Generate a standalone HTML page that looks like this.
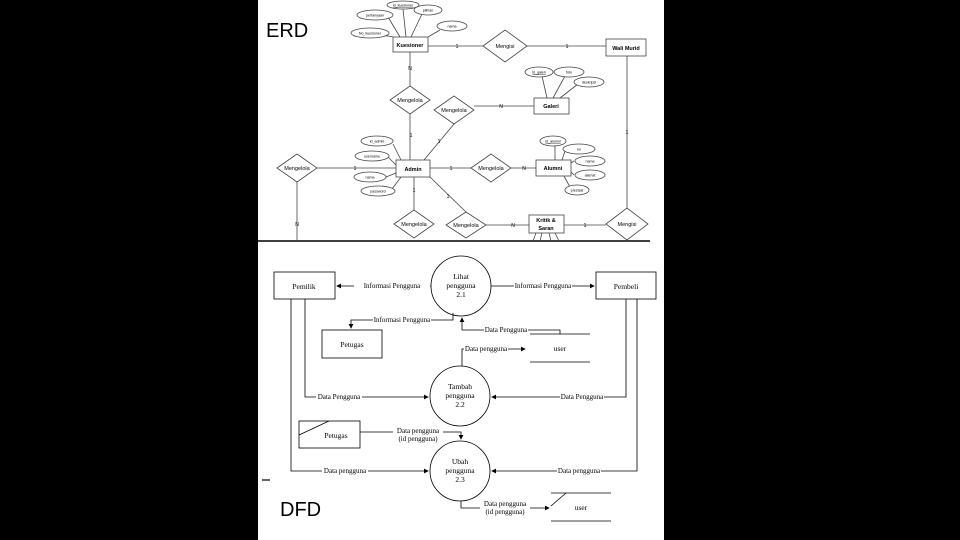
<!DOCTYPE html>
<html><head><meta charset="utf-8"><style>
html,body{margin:0;padding:0;background:#000;}
svg{display:block}
.s{font-family:"Liberation Sans",sans-serif;}
.f{font-family:"Liberation Serif",serif;}
</style></head><body>
<svg width="960" height="540" viewBox="0 0 960 540" xmlns="http://www.w3.org/2000/svg">
<defs><marker id="a" markerWidth="6" markerHeight="6" refX="5" refY="3" orient="auto"><path d="M0,0 L6,3 L0,6 z" fill="#000"/></marker></defs>
<rect x="0" y="0" width="960" height="540" fill="#000"/>
<rect x="258" y="0" width="406" height="540" fill="#fff"/>
<text x="266" y="37" class="s" font-size="20" fill="#000">ERD</text>
<text x="280" y="516" class="s" font-size="20" fill="#000">DFD</text>
<line x1="258" y1="241" x2="650" y2="241" stroke="#000" stroke-width="1.5"/>
<line x1="262" y1="480" x2="270" y2="480" stroke="#000" stroke-width="1.2"/>

<g stroke="#444" stroke-width="0.8" fill="none">
<!-- ERD lines -->
<line x1="428" y1="46" x2="483" y2="46"/><line x1="527" y1="46" x2="606" y2="46"/>
<line x1="410" y1="52" x2="410" y2="86"/><line x1="410" y1="114" x2="410" y2="160"/>
<line x1="454" y1="124" x2="424" y2="160"/><line x1="474" y1="106" x2="534" y2="106"/>
<line x1="317" y1="168" x2="396" y2="168"/><line x1="297" y1="182" x2="297" y2="241"/>
<line x1="430" y1="168" x2="471" y2="168"/><line x1="511" y1="168" x2="536" y2="168"/>
<line x1="414" y1="177" x2="414" y2="210"/><line x1="430" y1="177" x2="466" y2="212"/>
<line x1="486" y1="225" x2="529" y2="225"/><line x1="564" y1="225" x2="606" y2="225"/>
<line x1="627" y1="56" x2="627" y2="208"/>
<!-- attr lines -->
<line x1="394" y1="37" x2="369" y2="33"/><line x1="400" y1="37" x2="388" y2="17"/>
<line x1="406" y1="37" x2="403" y2="9"/><line x1="411" y1="37" x2="422" y2="14"/>
<line x1="428" y1="37" x2="440" y2="30"/>
<line x1="547" y1="98" x2="542" y2="76"/><line x1="553" y1="98" x2="565" y2="76"/>
<line x1="560" y1="98" x2="578" y2="84"/>
<line x1="555" y1="160" x2="555" y2="145"/><line x1="562" y1="160" x2="565" y2="151"/>
<line x1="571" y1="163" x2="574" y2="161"/><line x1="571" y1="172" x2="574" y2="175"/>
<line x1="564" y1="176" x2="570" y2="187"/>
<line x1="401" y1="160" x2="393" y2="144"/><line x1="396" y1="165" x2="388" y2="157"/>
<line x1="396" y1="173" x2="386" y2="177"/><line x1="401" y1="177" x2="392" y2="189"/>
<line x1="536" y1="233" x2="533" y2="241"/><line x1="542" y1="233" x2="540" y2="241"/><line x1="549" y1="233" x2="551" y2="241"/><line x1="555" y1="233" x2="559" y2="241"/>
</g>
<g stroke="#444" stroke-width="0.8" fill="#fff">
<rect x="393" y="37" width="35" height="15"/>
<rect x="606" y="39" width="40" height="17"/>
<rect x="534" y="98" width="35" height="16"/>
<rect x="396" y="160" width="34" height="17"/>
<rect x="536" y="160" width="35" height="16"/>
<rect x="529" y="215" width="35" height="18"/>
<polygon points="483,46 505,30 527,46 505,62"/>
<polygon points="390,100 410,86 430,100 410,114"/>
<polygon points="434,110 454,96 474,110 454,124"/>
<polygon points="277,168 297,154 317,168 297,182"/>
<polygon points="471,168 491,154 511,168 491,182"/>
<polygon points="394,224 414,210 434,224 414,238"/>
<polygon points="446,225 466,212 486,225 466,238"/>
<polygon points="606,224 627,208 648,224 627,240"/>
<ellipse cx="403" cy="5" rx="16" ry="4"/><ellipse cx="375" cy="15" rx="18" ry="5"/>
<ellipse cx="428" cy="10" rx="14" ry="5"/><ellipse cx="452" cy="26" rx="15" ry="5"/>
<ellipse cx="370" cy="33" rx="19" ry="5"/>
<ellipse cx="539" cy="72" rx="14" ry="5"/><ellipse cx="569" cy="72" rx="15" ry="5"/>
<ellipse cx="589" cy="82" rx="15" ry="5"/>
<ellipse cx="553" cy="141" rx="13" ry="5"/><ellipse cx="579" cy="149" rx="16" ry="5"/>
<ellipse cx="590" cy="161" rx="15" ry="5"/><ellipse cx="590" cy="175" rx="15" ry="5"/>
<ellipse cx="577" cy="190" rx="12" ry="5"/>
<ellipse cx="377" cy="141" rx="16" ry="5"/><ellipse cx="372" cy="156" rx="17" ry="5"/>
<ellipse cx="370" cy="177" rx="16" ry="5"/><ellipse cx="378" cy="191" rx="17" ry="5"/>
</g>
<g class="s" font-size="5.5" fill="#000" text-anchor="middle">
<text x="410" y="47" font-weight="bold">Kuesioner</text>
<text x="626" y="50" font-weight="bold">Wali Murid</text>
<text x="551" y="108" font-weight="bold">Galeri</text>
<text x="413" y="171" font-weight="bold">Admin</text>
<text x="553" y="170" font-weight="bold">Alumni</text>
<text x="546" y="222" font-weight="bold">Kritik &amp;</text>
<text x="546" y="230" font-weight="bold">Saran</text>
<text x="505" y="48">Mengisi</text><text x="410" y="102">Mengelola</text>
<text x="454" y="112">Mengelola</text><text x="297" y="170">Mengelola</text>
<text x="491" y="170">Mengelola</text><text x="414" y="226">Mengelola</text>
<text x="466" y="227">Mengelola</text><text x="627" y="226">Mengisi</text>
<g font-size="3.6">
<text x="403" y="6.5" text-decoration="underline">id_kuesioner</text><text x="375" y="16.5">pertanyaan</text>
<text x="428" y="11.5">pilihan</text><text x="452" y="27.5">nama</text><text x="370" y="34.5">No_kuesioner</text>
<text x="539" y="73.5" text-decoration="underline">id_galeri</text><text x="569" y="73.5">foto</text><text x="589" y="83.5">deskripsi</text>
<text x="553" y="142.5" text-decoration="underline">id_alumni</text><text x="579" y="150.5">no</text>
<text x="590" y="162.5">nama</text><text x="590" y="176.5">alamat</text><text x="577" y="191.5">prestasi</text>
<text x="377" y="142.5">id_admin</text><text x="372" y="157.5">username</text>
<text x="370" y="178.5">nama</text><text x="378" y="192.5">password</text>
</g>
<g font-size="5" fill="#000">
<text x="457" y="48">1</text><text x="567" y="48">1</text><text x="410" y="70">N</text>
<text x="411" y="137">1</text><text x="439" y="143">1</text><text x="501" y="108">N</text>
<text x="355" y="170">1</text><text x="451" y="170">1</text><text x="524" y="170">N</text>
<text x="414" y="192">1</text><text x="448" y="198">1</text><text x="513" y="227">N</text>
<text x="585" y="227">1</text><text x="627" y="134">1</text><text x="297" y="226">N</text>
</g>
</g>

<!-- DFD -->
<g stroke="#000" stroke-width="0.8" fill="none">
<rect x="274" y="272" width="61" height="27"/>
<rect x="596" y="272" width="60" height="27"/>
<rect x="322" y="330" width="60" height="28"/>
<rect x="299" y="421" width="61" height="27"/><line x1="299" y1="435" x2="329" y2="421"/>
<circle cx="461" cy="286" r="30"/><circle cx="460" cy="396" r="30"/><circle cx="460" cy="471" r="30"/>
<line x1="530" y1="334" x2="590" y2="334"/><line x1="530" y1="362" x2="590" y2="362"/>
<line x1="551" y1="493" x2="611" y2="493"/><line x1="551" y1="521" x2="611" y2="521"/>
<line x1="551" y1="506" x2="566" y2="493"/>
<line x1="431" y1="286" x2="337" y2="286" marker-end="url(#a)"/>
<line x1="491" y1="286" x2="594" y2="286" marker-end="url(#a)"/>
<polyline points="453,313 453,320 351,320 351,328" marker-end="url(#a)"/>
<polyline points="560,334 560,330 462,330 462,318" marker-end="url(#a)"/>
<polyline points="462,366 462,349 525,349" marker-end="url(#a)"/>
<polyline points="305,299 305,397 428,397" marker-end="url(#a)"/>
<polyline points="626,299 626,397 492,397" marker-end="url(#a)"/>
<polyline points="360,432 461,432 461,439" marker-end="url(#a)"/>
<polyline points="291,299 291,471 428,471" marker-end="url(#a)"/>
<polyline points="637,299 637,471 492,471" marker-end="url(#a)"/>
<polyline points="461,501 461,508 549,508" marker-end="url(#a)"/>
</g>
<g class="f" font-size="7.5" fill="#000" text-anchor="middle">
<text x="304" y="289">Pemilik</text><text x="626" y="289">Pembeli</text>
<text x="352" y="347">Petugas</text><text x="336" y="438">Petugas</text>
<text x="560" y="351">user</text><text x="581" y="510">user</text>
<text x="461" y="279">Lihat</text><text x="461" y="288">pengguna</text><text x="461" y="297">2.1</text>
<text x="460" y="389">Tambah</text><text x="460" y="398">pengguna</text><text x="460" y="407">2.2</text>
<text x="460" y="464">Ubah</text><text x="460" y="473">pengguna</text><text x="460" y="482">2.3</text>
</g>
<g class="f" font-size="7" fill="#000" text-anchor="middle">
<rect x="354" y="281" width="76" height="9" fill="#fff"/><text x="392" y="288">Informasi Pengguna</text>
<rect x="514" y="281" width="58" height="9" fill="#fff"/><text x="543" y="288">Informasi Pengguna</text>
<rect x="373" y="315" width="58" height="9" fill="#fff"/><text x="402" y="322">Informasi Pengguna</text>
<rect x="484" y="325" width="44" height="9" fill="#fff"/><text x="506" y="332">Data Pengguna</text>
<rect x="464" y="344" width="44" height="9" fill="#fff"/><text x="486" y="351">Data pengguna</text>
<rect x="316" y="392" width="46" height="9" fill="#fff"/><text x="339" y="399">Data Pengguna</text>
<rect x="560" y="392" width="44" height="9" fill="#fff"/><text x="582" y="399">Data Pengguna</text>
<rect x="393" y="426" width="50" height="17" fill="#fff"/><text x="418" y="433">Data pengguna</text><text x="418" y="441">(id pengguna)</text>
<rect x="322" y="466" width="46" height="9" fill="#fff"/><text x="345" y="473">Data pengguna</text>
<rect x="557" y="466" width="44" height="9" fill="#fff"/><text x="579" y="473">Data pengguna</text>
<rect x="480" y="499" width="50" height="17" fill="#fff"/><text x="505" y="506">Data pengguna</text><text x="505" y="514">(id pengguna)</text>
</g>
</svg>
</body></html>
